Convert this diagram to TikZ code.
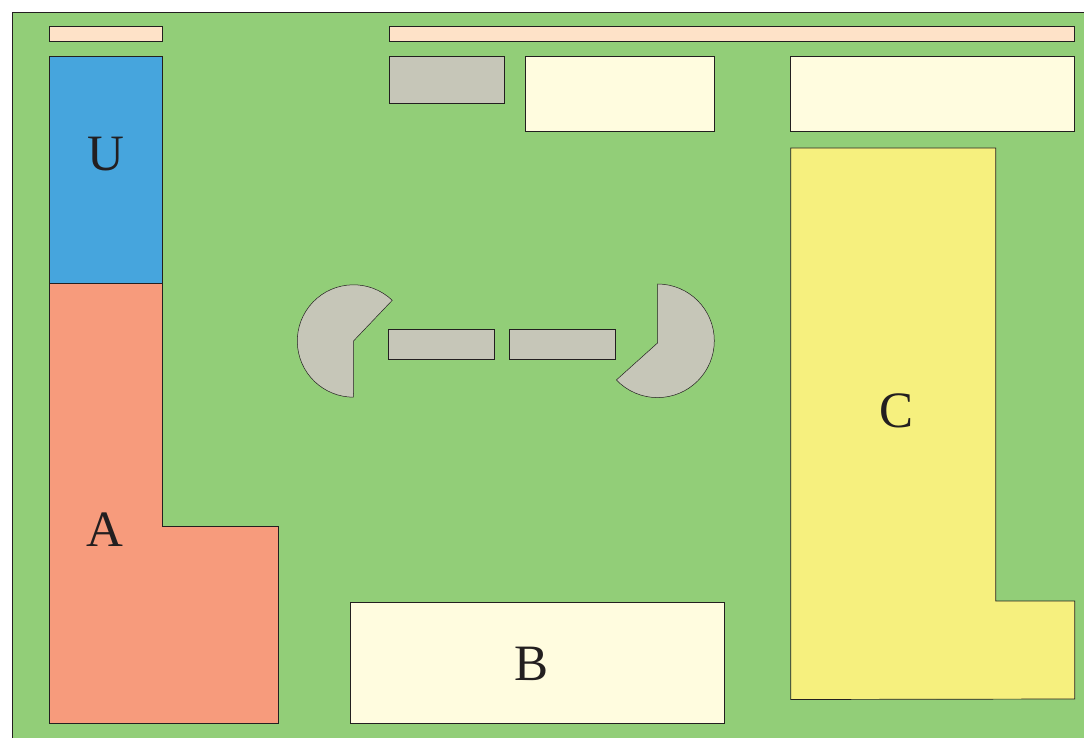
\documentclass[tikz,border=0pt]{standalone}
\usepackage{fontspec}
\setmainfont{Liberation Serif}
\definecolor{gbg}{HTML}{92CE78}
\definecolor{bluez}{HTML}{46A5DD}
\definecolor{salm}{HTML}{F79B7C}
\definecolor{yel}{HTML}{F6F07E}
\definecolor{crm}{HTML}{FFFCDF}
\definecolor{pch}{HTML}{FEE2C8}
\definecolor{gry}{HTML}{C6C6B8}
\definecolor{ink}{HTML}{231F20}
\tikzset{zone/.style={draw=ink,line width=0.7pt,line join=miter},
  lab/.style={font=\fontsize{51}{51}\selectfont,text=ink,inner sep=0pt,anchor=base}}
\begin{document}
\begin{tikzpicture}[x=1pt,y=-1pt]
\useasboundingbox (0,0) rectangle (1084,738);
\clip (0,0) rectangle (1084,738);
\filldraw[zone,fill=gbg] (12,12.5) rectangle (1100,760);
\begin{scope}[xshift=-0.25pt]
\filldraw[zone,fill=pch] (50,26.5) rectangle (163,41.5);
\filldraw[zone,fill=pch] (390,26.5) rectangle (1075,41.5);
\filldraw[zone,fill=bluez] (50,56.5) rectangle (163,283.5);
\filldraw[zone,fill=salm] (50,283.5) -- (163,283.5) -- (163,526.5) -- (279,526.5) -- (279,723.5) -- (50,723.5) -- cycle;
\filldraw[zone,fill=gry] (390,56.5) rectangle (505,103);
\filldraw[zone,fill=crm] (526,56.5) rectangle (715,131);
\filldraw[zone,fill=crm] (791,56.5) rectangle (1075,131);
\filldraw[zone,fill=yel] (791,148) -- (996,148) -- (996,601) -- (1075,601) -- (1075,699) -- (791,699.5) -- cycle;
\filldraw[zone,fill=crm] (351,602.5) rectangle (725,723.5);
\filldraw[zone,fill=gry] (388.75,329) rectangle (494.75,359);
\filldraw[zone,fill=gry] (509.75,329) rectangle (615.75,359);
\end{scope}
\filldraw[zone,fill=gry,line width=0.5pt] (353.5,341) -- (392.25,300.3) arc[start angle=-46.4,end angle=-270,radius=56.2] -- cycle;
\filldraw[zone,fill=gry,line width=0.5pt] (657.5,343) -- (657.5,284) arc[start angle=-90,end angle=136.4,radius=56.8] -- cycle;
\node[lab] (u) at (105.5,170.5) {U};
\node[lab] (a) at (104.5,546.5) {A};
\node[lab] (b) at (532,680.5) {B};
\node[lab] (c) at (896,427) {C};
\end{tikzpicture}
\end{document}
